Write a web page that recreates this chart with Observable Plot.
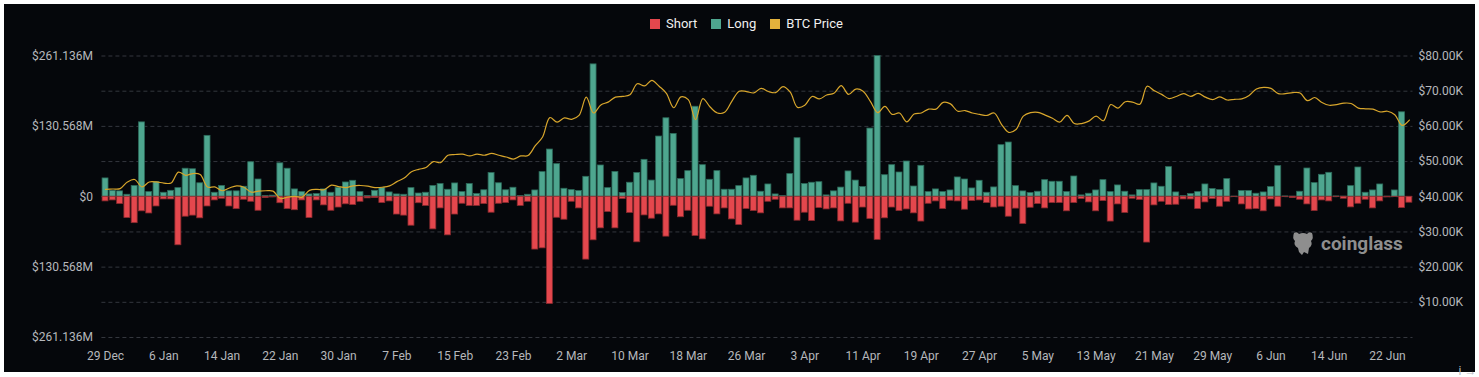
<!DOCTYPE html>
<html>
<head>
<meta charset="utf-8">
<script src="https://cdn.jsdelivr.net/npm/d3@7"></script>
<script src="https://cdn.jsdelivr.net/npm/@observablehq/plot@0.6"></script>
<style>
  html, body { margin: 0; padding: 0; background: #ffffff; }
  #wrap { position: relative; width: 1479px; height: 377px; overflow: hidden; }
  #bg { position: absolute; left: 4px; top: 4px; width: 1471px; height: 368px; background: #05070b; }
  #chart { position: absolute; left: 0; top: 0; }
  #legend { position: absolute; left: 0; top: 16px; width: 1479px; display: flex; justify-content: center;
    gap: 14px; padding-left: 14px; box-sizing: border-box; font-family: Roboto, "Noto Sans", sans-serif;
    font-size: 13px; color: #f0f0f0; }
  #legend .it { display: flex; align-items: center; gap: 6px; }
  #legend .sw { width: 10px; height: 10px; display: inline-block; }
  #wm { position: absolute; left: 1291px; top: 230px; display: flex; align-items: center; gap: 6px;
    font-family: Roboto, "Noto Sans", sans-serif; font-weight: 700; font-size: 19px; color: #8e8e8e; }
</style>
</head>
<body>
<div id="wrap">
  <div id="bg"></div>
  <div id="chart"></div>
  <div id="legend"></div>
  <div id="wm">
    <svg width="24" height="26" viewBox="0 0 24 26"><path d="M3 3 Q6 1 8 4 Q12 2 16 4 Q18 1 21 3 Q23 8 20 11 Q22 15 18 18 L17 24 L13 22 L11 25 L8 22 L7 18 Q2 15 4 11 Q1 8 3 3 Z" fill="#8e8e8e"/></svg>
    <span>coinglass</span>
  </div>
</div>
<script>
// Long liquidations ($M), daily 29 Dec 2023 .. 25 Jun 2024
const longs = [
  34, 11, 10, 3.7, 20, 138, 8.6, 27, 7.4, 11,
  16, 52, 51, 25, 113, 7.4, 20, 10, 10, 18.5,
  64, 32, 1.2, 2, 62, 52, 13.6, 8.6, 4.3, 5,
  13.6, 7.4, 16.7, 26.5, 29.6, 8.6, 1.2, 11, 16, 8,
  4.3, 3.7, 16, 6, 7.4, 20, 23.5, 13, 24.7, 8.6,
  23.5, 5, 12, 44, 25, 12, 16.7, 1.2, 3.7, 11.7,
  45.7, 87.6, 60.5, 14.8, 12.3, 10.5, 37, 245.6, 58, 16,
  46, 6.8, 26, 44, 68.5, 30, 111.7, 145.6, 116.6, 32.7,
  47.5, 167, 58.6, 31.5, 47.5, 13, 13, 19.7, 34, 38.9,
  9.3, 22.8, 4.3, 1.2, 42, 108.6, 23.5, 26, 27, 2.5,
  10, 17, 47, 30, 18, 126.5, 261, 40, 58.6, 45,
  65.4, 19, 57.4, 8.6, 13.6, 8.6, 11.7, 35.8, 32, 15.4,
  29.6, 7.4, 17.3, 95.7, 100.6, 19.7, 9.9, 6.8, 9.3, 30.8,
  27.8, 27.8, 8.6, 37.6, 2.5, 5.6, 11.7, 30.8, 8.6, 21,
  9.3, 2.5, 12.3, 12.3, 24.7, 18.5, 55, 8, 1.2, 5,
  8.6, 22.8, 14.2, 12.3, 32.7, 0.3, 10.5, 10.5, 5.6, 8,
  17.9, 56.8, 0.6, 0.3, 9.3, 52.4, 25.3, 40.7, 44.4, 0.6,
  0.3, 19.7, 54.3, 7.4, 11.7, 22.8, 0.3, 11.7, 156.7, 0
];
// Short liquidations ($M)
const shorts = [
  8.6, 6.8, 13.6, 39.5, 49, 27, 31, 18, 5, 5,
  90, 37, 35, 40, 18, 6.8, 3.7, 18, 23, 5.6,
  9.3, 26, 2.5, 1.2, 12, 23, 25, 6.8, 39.5, 6.8,
  16, 26, 20, 14, 15.4, 9.3, 3, 2.5, 11.7, 8.6,
  33, 35, 53.7, 12, 17, 60.5, 21.6, 71.6, 33, 13,
  17, 17, 13.6, 29.6, 13, 11.7, 6.8, 17, 9.3, 98,
  95.7, 199, 39, 42.6, 9.3, 21.6, 116.6, 80.8, 58.6, 28.4,
  58.6, 4.3, 30, 84.5, 34.6, 40.7, 32.7, 74, 16.7, 38,
  26, 72.8, 79, 18.5, 32.7, 21.6, 42, 52.4, 22.8, 26.5,
  30.8, 9.3, 5.6, 21.6, 21.6, 44.4, 29.6, 45, 21, 23.5,
  21.6, 45.7, 13, 48, 20, 41.3, 80, 40, 20, 26.5,
  23.5, 30.8, 46, 13, 8.6, 22.8, 7.4, 8.6, 24, 8,
  6.8, 11.7, 20, 18.5, 37, 22, 50.6, 20.4, 13.6, 21.6,
  11.7, 11.7, 27, 11.7, 4.3, 10.5, 27, 8, 46, 14.2,
  30, 3.7, 6.2, 85, 16, 9.3, 15.4, 14.8, 5, 5,
  22.8, 10.5, 4.3, 18.5, 9.3, 0.6, 14.2, 23.5, 22.8, 27,
  5, 18.5, 0.6, 2.5, 5.6, 14.2, 26.5, 6.8, 8.6, 0.6,
  3.7, 19.7, 13, 5.6, 21.6, 8.6, 1.2, 0.6, 21, 11
];
// BTC price ($K)
const prices = [
  42.1, 42.2, 42.3, 44.2, 44.9, 42.8, 44.2, 44.2, 43.9, 43.9,
  47.0, 46.1, 46.6, 46.3, 42.8, 42.8, 41.7, 42.5, 43.1, 42.7,
  41.3, 41.6, 41.7, 41.6, 39.5, 39.9, 40.1, 39.9, 41.8, 42.1,
  42.0, 43.3, 42.9, 42.6, 43.1, 43.2, 43.0, 42.6, 42.7, 43.1,
  44.3, 45.3, 47.1, 47.8, 48.3, 50.0, 49.7, 51.8, 52.0, 52.1,
  51.6, 52.1, 51.8, 52.3, 51.8, 51.3, 50.7, 51.6, 51.7, 54.5,
  57.0, 62.5, 61.2, 62.4, 62.0, 63.1, 68.3, 63.8, 66.1, 66.9,
  68.3, 68.5, 69.0, 72.1, 71.5, 73.1, 71.4, 69.4, 65.3, 68.4,
  67.6, 61.9, 67.9, 65.5, 63.8, 64.0, 67.2, 70.0, 69.9, 69.5,
  70.8, 69.9, 69.6, 71.3, 69.7, 65.4, 66.0, 68.5, 67.8, 68.9,
  69.4, 71.6, 69.1, 70.6, 70.0, 67.1, 63.9, 65.7, 63.4, 63.8,
  61.3, 63.5, 63.8, 64.9, 64.9, 66.8, 66.4, 64.3, 64.5, 63.8,
  63.4, 63.1, 63.8, 60.6, 58.3, 59.1, 62.9, 63.9, 64.0, 63.2,
  62.3, 61.2, 63.1, 60.8, 60.8, 61.5, 62.9, 61.6, 66.2, 65.2,
  67.0, 66.9, 66.3, 71.4, 70.1, 69.1, 67.9, 68.5, 69.3, 68.5,
  69.4, 68.3, 67.6, 68.4, 67.5, 67.7, 67.8, 68.8, 70.6, 71.1,
  70.8, 69.3, 69.3, 69.6, 69.5, 67.3, 68.2, 66.8, 66.0, 66.2,
  66.6, 66.5, 65.2, 65.0, 64.9, 64.1, 64.3, 63.3, 60.3, 61.8
];
// x tick labels, one every 8 days
const xTickLabels = ["29 Dec","6 Jan","14 Jan","22 Jan","30 Jan","7 Feb","15 Feb","23 Feb","2 Mar","10 Mar","18 Mar","26 Mar","3 Apr","11 Apr","19 Apr","27 Apr","5 May","13 May","21 May","29 May","6 Jun","14 Jun","22 Jun"];
const leftMax = 261.136;          // $M
const leftTicks = [-261.136, -130.568, 0, 130.568, 261.136];
const priceTicks = [10, 20, 30, 40, 50, 60, 70, 80]; // $K
const priceMax = 80;              // $K at top of frame
const seriesNames = ["Short", "Long", "BTC Price"];
const seriesColors = ["#e4474d", "#4ea68f", "#e3b23c"];

// price (K) -> left-axis units
const priceToY = p => -leftMax + (p / priceMax) * (2 * leftMax);
const yToPrice = v => (v + leftMax) / (2 * leftMax) * priceMax;

const rows = longs.map((v, i) => ({ i, long: v, short: -shorts[i], price: prices[i] }));
const gridVals = d3.range(9).map(k => -leftMax + k * leftMax / 4);
const xTicks = xTickLabels.map((_, k) => k * 8);

const chart = Plot.plot({
  width: 1479,
  height: 377,
  marginLeft: 101.4,
  marginRight: 66.5,
  marginTop: 55.5,
  marginBottom: 40,
  style: { background: "transparent", color: "#b6b8bc", fontSize: "12px", fontFamily: "Roboto, 'Noto Sans', sans-serif" },
  x: { domain: [-0.5, longs.length - 0.5], axis: null },
  y: { domain: [-leftMax, leftMax], axis: null },
  marks: [
    Plot.gridY(gridVals, { stroke: "#34373e", strokeOpacity: 1, strokeDasharray: "4,3" }),
    Plot.rect(rows, { x1: d => d.i - 0.41, x2: d => d.i + 0.41, y1: 0, y2: "long", fill: seriesColors[1], stroke: "#2c6a5a", strokeWidth: 0.8 }),
    Plot.rect(rows, { x1: d => d.i - 0.41, x2: d => d.i + 0.41, y1: 0, y2: "short", fill: seriesColors[0], stroke: "#8a2a2e", strokeWidth: 0.8 }),
    Plot.line(rows, { x: "i", y: d => priceToY(d.price), stroke: "#d8a62c", strokeWidth: 1.2, curve: "catmull-rom" }),
    Plot.axisX(xTicks, { tickSize: 0, tickPadding: 14, tickFormat: d => xTickLabels[d / 8] }),
    Plot.axisY(leftTicks, { anchor: "left", tickSize: 0, tickPadding: 9,
      tickFormat: v => v === 0 ? "$0" : "$" + Math.abs(v).toFixed(3) + "M" }),
    Plot.axisY(priceTicks.map(priceToY), { anchor: "right", tickSize: 0, tickPadding: 5.5,
      tickFormat: v => "$" + Math.round(yToPrice(v)).toFixed(2) + "K" })
  ]
});
document.getElementById("chart").appendChild(chart);

const legend = document.getElementById("legend");
seriesNames.forEach((n, k) => {
  const it = document.createElement("div");
  it.className = "it";
  it.innerHTML = `<span class="sw" style="background:${seriesColors[k]}"></span><span>${n}</span>`;
  legend.appendChild(it);
});
</script>
</body>
</html>
